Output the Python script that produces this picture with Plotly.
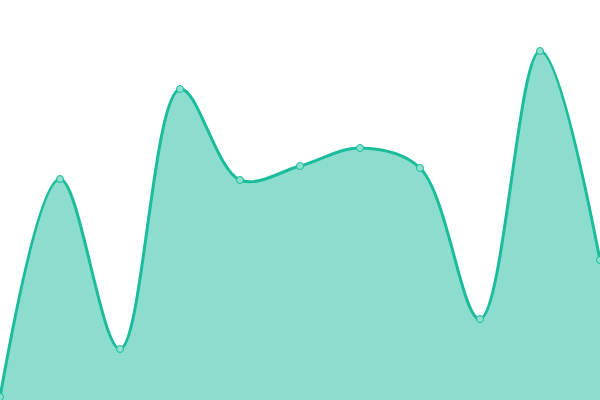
import plotly.graph_objects as go

# x positions and values
x_vals = [0, 60, 120, 180, 240, 300, 360, 420, 480, 540, 600]
y_vals = [3, 221, 51, 311, 220, 234, 252, 232, 81, 349, 140]

line_color = '#1abc9c'
fill_color = 'rgba(26,188,156,0.5)'

fig = go.Figure()
fig.add_trace(go.Scatter(x=x_vals, y=y_vals, mode='lines+markers',
                         line=dict(color=line_color, width=3, shape='spline', smoothing=1),
                         fill='tozeroy', fillcolor=fill_color,
                         marker=dict(size=7, color='#8ee0cf',
                                     line=dict(color=line_color, width=1)),
                         hoverinfo='skip', showlegend=False))

fig.update_layout(width=600, height=400,
                  margin=dict(l=0, r=0, t=0, b=0),
                  paper_bgcolor='white', plot_bgcolor='white',
                  xaxis=dict(range=[0, 600], visible=False, fixedrange=True),
                  yaxis=dict(range=[0, 400], visible=False, fixedrange=True))

# the page body has an 8px margin by default; drop it so the plot fills the window
fig.write_html("out.html",
               config={'displayModeBar': False, 'staticPlot': True},
               post_script="document.body.style.margin='0';document.body.style.overflow='hidden';")
